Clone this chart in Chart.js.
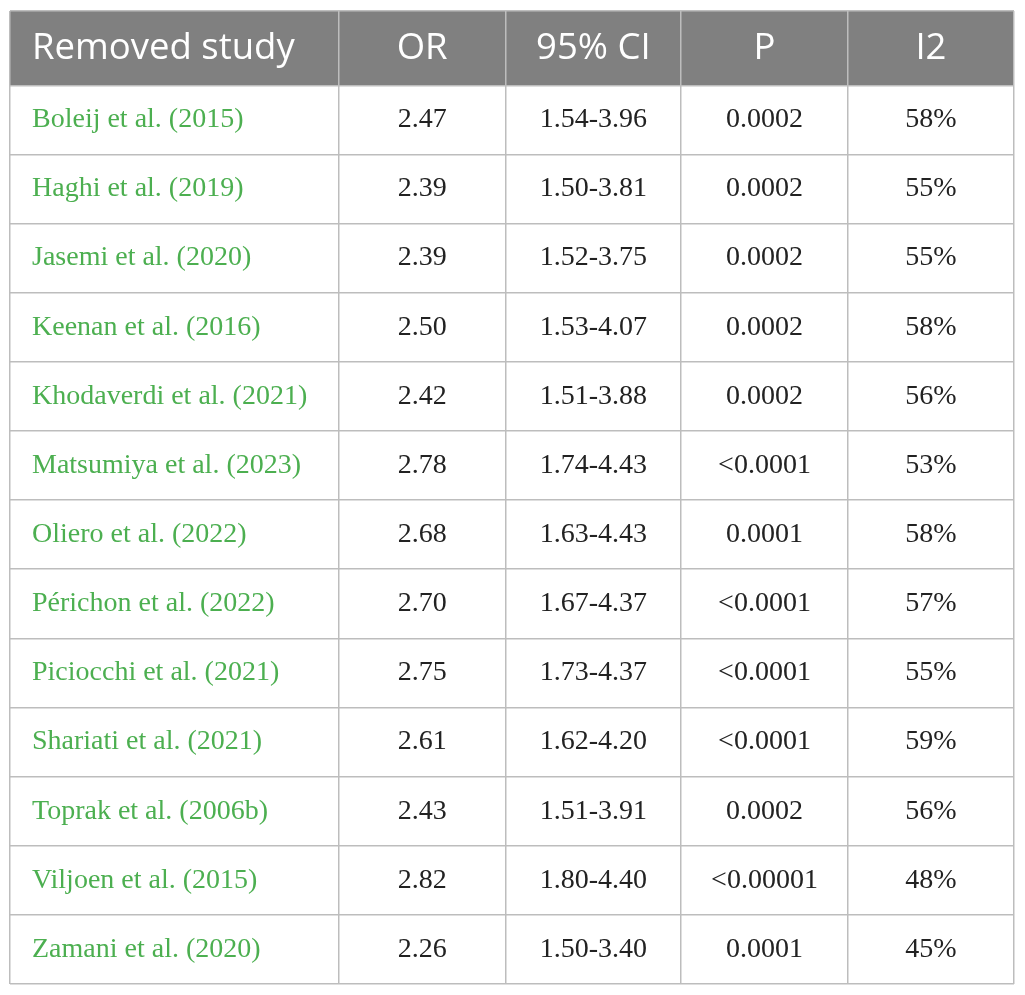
<!DOCTYPE html>
<html>
<head>
<meta charset="utf-8">
<script src="https://cdn.jsdelivr.net/npm/chart.js@4"></script>
<style>
  html, body { margin: 0; padding: 0; background: #fff; }
  #wrap { width: 1025px; height: 995px; }
</style>
</head>
<body>
<div id="wrap"><canvas id="sensitivity-table" width="1025" height="995"></canvas></div>
<script>
// leave-one-out results, one entry per removed study
const headers = ['Removed study', 'OR', '95% CI', 'P', 'I2'];
const studies = [
    'Boleij et al. (2015)', 'Haghi et al. (2019)', 'Jasemi et al. (2020)',
    'Keenan et al. (2016)', 'Khodaverdi et al. (2021)', 'Matsumiya et al. (2023)',
    'Oliero et al. (2022)', 'Périchon et al. (2022)', 'Piciocchi et al. (2021)',
    'Shariati et al. (2021)', 'Toprak et al. (2006b)', 'Viljoen et al. (2015)',
    'Zamani et al. (2020)'
];
const oddsRatios = [2.47, 2.39, 2.39, 2.50, 2.42, 2.78, 2.68, 2.70, 2.75, 2.61, 2.43, 2.82, 2.26];
const ciLower = [1.54, 1.50, 1.52, 1.53, 1.51, 1.74, 1.63, 1.67, 1.73, 1.62, 1.51, 1.80, 1.50];
const ciUpper = [3.96, 3.81, 3.75, 4.07, 3.88, 4.43, 4.43, 4.37, 4.37, 4.20, 3.91, 4.40, 3.40];
const pValues = ['0.0002', '0.0002', '0.0002', '0.0002', '0.0002', '<0.0001', '0.0001',
    '<0.0001', '<0.0001', '<0.0001', '0.0002', '<0.00001', '0.0001'];
const i2Values = [58, 55, 55, 58, 56, 53, 58, 57, 55, 59, 56, 48, 45];

// column edges on the x scale, header takes a bit more height than a row
const colEdges = [0, 328.5, 495, 670.5, 837, 1003];
const headerRows = 1.075;

const rows = studies.map((s, i) => [
    s,
    oddsRatios[i].toFixed(2),
    ciLower[i].toFixed(2) + '-' + ciUpper[i].toFixed(2),
    pValues[i],
    i2Values[i] + '%'
]);

const tablePlugin = {
    id: 'tableCells',
    beforeDraw(chart) {
        const {ctx, scales: {x, y}} = chart;
        ctx.save();
        ctx.fillStyle = '#808080';
        const top = y.getPixelForValue(-headerRows);
        const bottom = y.getPixelForValue(0);
        const left = x.getPixelForValue(colEdges[0]);
        const right = x.getPixelForValue(colEdges[colEdges.length - 1]);
        ctx.fillRect(left, top, right - left, bottom - top);
        ctx.restore();
    },
    afterDatasetsDraw(chart) {
        const {ctx, scales: {x, y}} = chart;
        ctx.save();
        ctx.textBaseline = 'middle';

        // header
        ctx.fillStyle = '#ffffff';
        ctx.font = '36.5px "Open Sans"';
        const hy = y.getPixelForValue(-headerRows / 2);
        headers.forEach((h, c) => {
            if (c === 0) {
                ctx.textAlign = 'left';
                ctx.fillText(h, x.getPixelForValue(colEdges[0]) + 22, hy);
            } else {
                ctx.textAlign = 'center';
                ctx.fillText(h, x.getPixelForValue((colEdges[c] + colEdges[c + 1]) / 2), hy);
            }
        });

        // body
        ctx.font = '28px "Liberation Serif"';
        rows.forEach((row, r) => {
            const ty = y.getPixelForValue(r + 0.5);
            row.forEach((cell, c) => {
                if (c === 0) {
                    ctx.fillStyle = '#4caf50';
                    ctx.textAlign = 'left';
                    ctx.fillText(cell, x.getPixelForValue(colEdges[0]) + 22, ty);
                } else {
                    ctx.fillStyle = '#222222';
                    ctx.textAlign = 'center';
                    ctx.fillText(cell, x.getPixelForValue((colEdges[c] + colEdges[c + 1]) / 2), ty);
                }
            });
        });
        ctx.restore();
    }
};

const ctx = document.getElementById('sensitivity-table').getContext('2d');
const chart = new Chart(ctx, {
    type: 'scatter',
    data: {
        datasets: [{
            data: [],
            pointRadius: 0
        }]
    },
    options: {
        responsive: false,
        animation: false,
        events: [],
        layout: {
            padding: {left: 10, top: 11, right: 11, bottom: 11}
        },
        plugins: {
            legend: {display: false},
            tooltip: {enabled: false}
        },
        scales: {
            x: {
                type: 'linear',
                min: colEdges[0],
                max: colEdges[colEdges.length - 1],
                afterBuildTicks: axis => {
                    axis.ticks = colEdges.map(v => ({value: v}));
                },
                ticks: {display: false},
                grid: {color: '#bdbdbd', lineWidth: 1.5, drawTicks: false},
                border: {display: false}
            },
            y: {
                type: 'linear',
                reverse: true,
                min: -headerRows,
                max: studies.length,
                afterBuildTicks: axis => {
                    const t = [{value: -headerRows}];
                    for (let i = 0; i <= studies.length; i++) t.push({value: i});
                    axis.ticks = t;
                },
                ticks: {display: false},
                grid: {color: '#bdbdbd', lineWidth: 1.5, drawTicks: false},
                border: {display: false}
            }
        }
    },
    plugins: [tablePlugin]
});
</script>
</body>
</html>
